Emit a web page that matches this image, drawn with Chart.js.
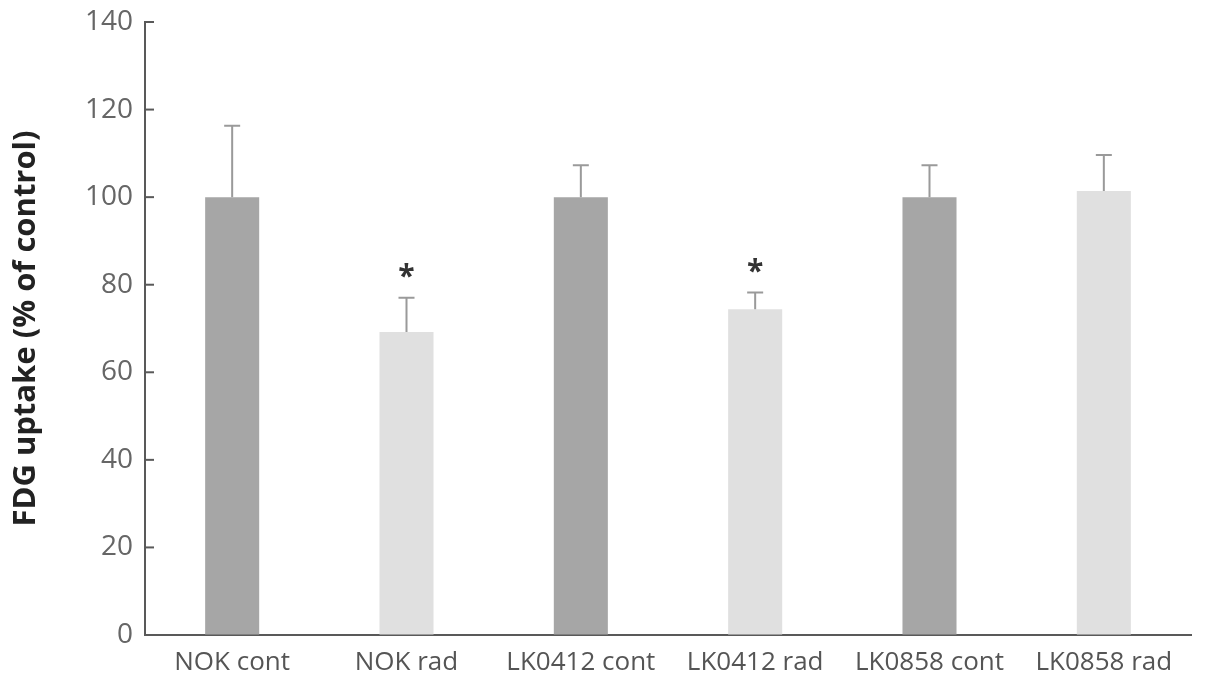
<!DOCTYPE html>
<html>
<head>
<meta charset="utf-8">
<script src="https://cdn.jsdelivr.net/npm/chart.js@4"></script>
<style>
  html,body{margin:0;padding:0;background:#fff;}
  #wrap{width:1205px;height:684px;}
</style>
</head>
<body>
<div id="wrap"><canvas id="c" width="1205" height="684"></canvas></div>
<script>
const labels = ["NOK cont","NOK rad","LK0412 cont","LK0412 rad","LK0858 cont","LK0858 rad"];
const means  = [100, 69.2, 100, 74.4, 100, 101.4];
const errUp  = [116.3, 77.0, 107.3, 78.2, 107.3, 109.6];
const stars  = ["", "*", "", "*", "", ""];
const colors = ["#a6a6a6","#e0e0e0","#a6a6a6","#e0e0e0","#a6a6a6","#e0e0e0"];
const yTicks = [0,20,40,60,80,100,120,140];

const extras = {
  id:"extras",
  afterDatasetsDraw(chart){
    const {ctx, scales:{x,y}} = chart;
    ctx.save();
    // error bars (upper only)
    ctx.strokeStyle = "#9a9a9a";
    ctx.lineWidth = 2;
    means.forEach((m,i)=>{
      const cx = x.getPixelForValue(i);
      const y0 = y.getPixelForValue(m), y1 = y.getPixelForValue(errUp[i]);
      ctx.beginPath();
      ctx.moveTo(cx, y0); ctx.lineTo(cx, y1);
      ctx.moveTo(cx-8, y1); ctx.lineTo(cx+8, y1);
      ctx.stroke();
      if(stars[i]){
        ctx.fillStyle = "#333";
        ctx.font = "bold 30px 'Open Sans', sans-serif";
        ctx.textAlign = "center";
        ctx.textBaseline = "middle";
        ctx.fillText(stars[i], cx, y1 - 20);
      }
    });
    // inward y ticks
    ctx.strokeStyle = "#595959";
    ctx.lineWidth = 2;
    yTicks.forEach(v=>{
      const py = y.getPixelForValue(v);
      ctx.beginPath(); ctx.moveTo(x.left, py); ctx.lineTo(x.left+9, py); ctx.stroke();
    });
    ctx.restore();
  }
};

new Chart(document.getElementById("c"), {
  type:"bar",
  data:{ labels, datasets:[{ data:means, backgroundColor:colors, borderWidth:0,
    barPercentage:0.31, categoryPercentage:1 }] },
  options:{
    responsive:false, animation:false,
    layout:{ padding:{ top:22, right:14, bottom:0, left:0 } },
    plugins:{ legend:{display:false}, tooltip:{enabled:false} },
    scales:{
      x:{
        grid:{ drawOnChartArea:false, drawTicks:false },
        border:{ display:true, color:"#595959", width:2 },
        ticks:{ color:"#555", padding:12, font:{ family:"'Open Sans', sans-serif", size:26 }, maxRotation:0 },
        afterFit(s){ s.height = 49; }
      },
      y:{
        min:0, max:140,
        grid:{ drawOnChartArea:false, drawTicks:false },
        border:{ display:true, color:"#595959", width:2 },
        ticks:{ stepSize:20, color:"#666", padding:12, font:{ family:"'Open Sans', sans-serif", size:28 } },
        title:{ display:true, text:"FDG uptake (% of control)", color:"#222",
          font:{ family:"'Open Sans', sans-serif", size:31, weight:"bold" }, padding:{ top:8, bottom:4 } },
        afterFit(s){ s.width = 145; s.paddingTop = 0; s.paddingBottom = 0; }
      }
    }
  },
  plugins:[extras]
});
</script>
</body>
</html>
